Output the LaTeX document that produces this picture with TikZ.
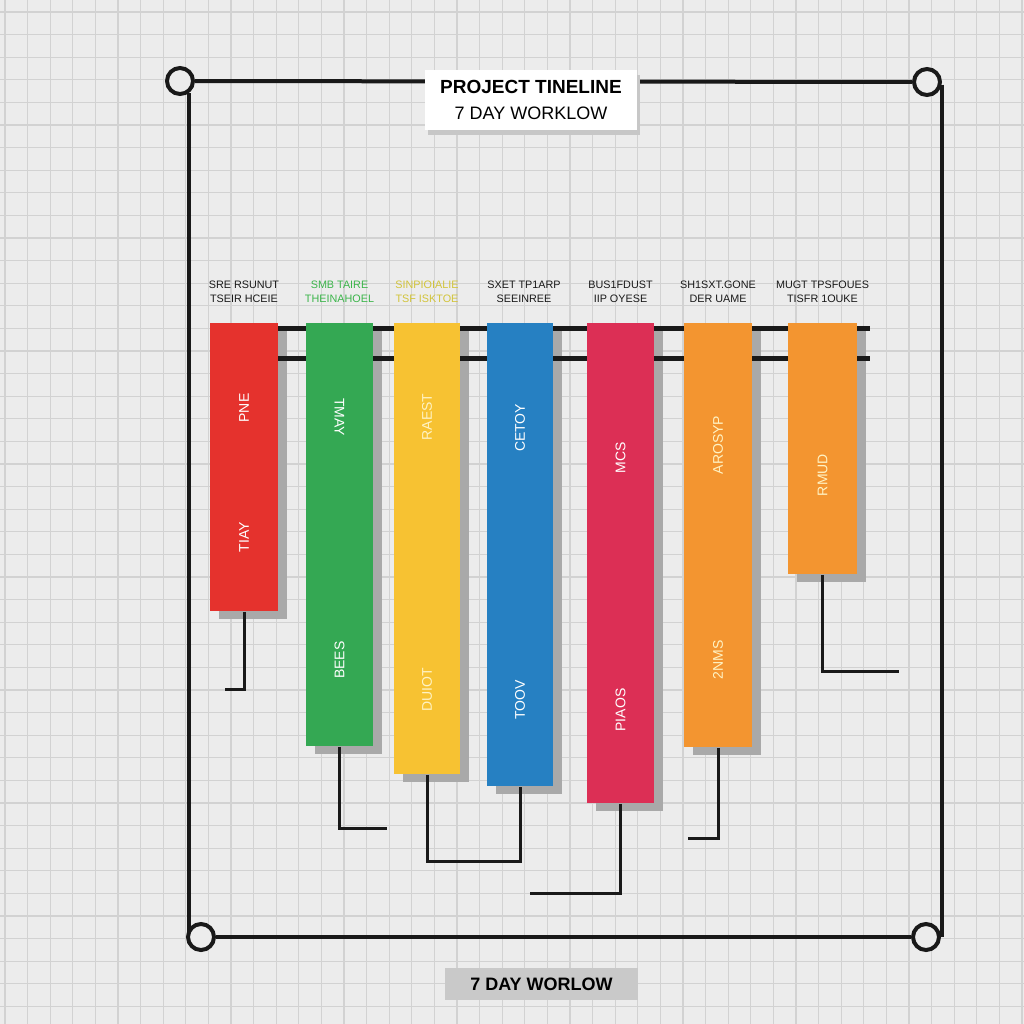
\documentclass[tikz,border=0pt]{standalone}
\usepackage{fontspec}
\setmainfont{Liberation Sans}
\usetikzlibrary{positioning,shadows}

\definecolor{bgc}{HTML}{ECECEC}
\definecolor{gridc}{HTML}{D2D2D2}
\definecolor{cred}{HTML}{E5322D}
\definecolor{cgreen}{HTML}{34A853}
\definecolor{cyellow}{HTML}{F7C232}
\definecolor{cblue}{HTML}{2680C2}
\definecolor{ccrimson}{HTML}{DC2F55}
\definecolor{corange}{HTML}{F39530}
\definecolor{shadc}{HTML}{A9A9A9}
\definecolor{hgreen}{HTML}{3CB54B}
\definecolor{hyellow}{HTML}{D2C43A}
\definecolor{cream}{HTML}{FFF3C4}
\definecolor{footc}{HTML}{C9C9C9}

\begin{document}
\begin{tikzpicture}[x=0.5pt, y=-0.5pt]
    \tikzstyle{gridline} = [draw=gridc, line width=0.6pt]
    \tikzstyle{ring} = [shape=circle, draw=black!90, line width=2pt, fill=bgc, minimum size=13pt, inner sep=0pt]
    \tikzstyle{rim} = [draw=black!90, line width=2pt]
    \tikzstyle{bar} = [shape=rectangle, anchor=north, inner sep=0pt, drop shadow={shadow xshift=4.5pt, shadow yshift=-4pt, fill=shadc, opacity=1}]
    \tikzstyle{rail} = [draw=black!90, line width=2.5pt]
    \tikzstyle{link} = [draw=black!90, line width=1.5pt]
    \tikzstyle{hdr} = [align=center, inner sep=0pt, text=black!90, font=\fontsize{5.4}{7}\selectfont]
    \tikzstyle{lbl} = [rotate=90, inner sep=0pt, text=white, font=\fontsize{7}{8}\selectfont]

    % 背景网格
    \fill[bgc] (0,0) rectangle (1024,1024);
    \useasboundingbox (0,0) rectangle (1024,1024);
    \foreach \g in {0,...,45} {
        \draw[gridline] (\g*22.6+5,0) -- (\g*22.6+5,1024);
        \draw[gridline] (0,\g*22.6+12) -- (1024,\g*22.6+12);
    }

    % 外框
    \path   (180, 81) node [ring, name=tl] {}
            (927, 82) node [ring, name=tr] {}
            (201, 937) node [ring, name=bl] {}
            (926, 937) node [ring, name=br] {};
    \draw[rim] (tl) -- (tr);
    \draw[rim] (bl) -- (br);
    \draw[rim] (tl.-55) -- (tl.-55 |- bl.158);
    \draw[rim] (tr.-10) -- (tr.-10 |- br.east);

    \node [fill=white, inner sep=0pt, minimum width=106pt, minimum height=30pt, align=center,
           font=\fontsize{9}{13}\selectfont,
           drop shadow={shadow xshift=1.5pt, shadow yshift=-2.5pt, fill=black!22, opacity=1}]
          (title) at (531, 100) {{\fontsize{9.5}{13}\selectfont\bfseries PROJECT TINELINE}\\7 DAY WORKLOW};

    % 七根柱子
    \path   (244, 323) node [bar, fill=cred, minimum width=34pt, minimum height=144pt, name=red] {}
            (339.5, 323) node [bar, fill=cgreen, minimum width=33.5pt, minimum height=211.5pt, name=green] {}
            (427, 323) node [bar, fill=cyellow, minimum width=33pt, minimum height=225.5pt, name=yellow] {}
            (520, 323) node [bar, fill=cblue, minimum width=33pt, minimum height=231.5pt, name=blue] {}
            (620.5, 323) node [bar, fill=ccrimson, minimum width=33.5pt, minimum height=240pt, name=crimson] {}
            (718, 323) node [bar, fill=corange, minimum width=34pt, minimum height=212pt, name=orangea] {}
            (822.5, 323) node [bar, fill=corange, minimum width=34.5pt, minimum height=125.5pt, name=orangeb] {};

    \foreach \a/\b in {red/green, green/yellow, yellow/blue, blue/crimson, crimson/orangea, orangea/orangeb} {
        \draw[rail] ([yshift=-2.5pt]\a.north east) -- ([yshift=-2.5pt]\b.north west);
        \draw[rail] ([yshift=-17.5pt]\a.north east) -- ([yshift=-17.5pt]\b.north west);
    }
    \coordinate (raila) at (870, 328);
    \coordinate (railb) at (870, 358);
    \draw[rail] ([yshift=-2.5pt]orangeb.north east) -- (raila);
    \draw[rail] ([yshift=-17.5pt]orangeb.north east) -- (railb);

    % 表头
    \node [hdr, above=10pt of red] (hred) {SRE RSUNUT\\TSEIR HCEIE};
    \node [hdr, text=hgreen, above=10pt of green] (hgreen) {SMB TAIRE\\THEINAHOEL};
    \node [hdr, text=hyellow, above=10pt of yellow] (hyellow) {SINPIOIALIE\\TSF ISKTOE};
    \node [hdr, above=10pt of blue, xshift=2pt] (hblue) {SXET TP1ARP\\SEEINREE};
    \node [hdr, above=10pt of crimson] (hcrimson) {BUS1FDUST\\IIP OYESE};
    \node [hdr, above=10pt of orangea] (horangea) {SH1SXT.GONE\\DER UAME};
    \node [hdr, above=10pt of orangeb] (horangeb) {MUGT TPSFOUES\\TISFR 1OUKE};

    % 柱内文字
    \node [lbl] (reda) at (red |- 0,408) {PNE};
    \node [lbl] (redb) at (red |- 0,537) {TIAY};
    \node [lbl, rotate=180] (greena) at (green |- 0,417) {TMAY};
    \node [lbl] (greenb) at (green |- 0,660) {BEES};
    \node [lbl, text=cream] (yellowa) at (yellow |- 0,417) {RAEST};
    \node [lbl, text=cream] (yellowb) at (yellow |- 0,690) {DUIOT};
    \node [lbl] (bluea) at (blue |- 0,428) {CETOY};
    \node [lbl] (blueb) at (blue |- 0,700) {TOOV};
    \node [lbl] (crimsona) at (crimson |- 0,458) {MCS};
    \node [lbl] (crimsonb) at (crimson |- 0,710) {PIAOS};
    \node [lbl, text=cream] (orangeaa) at (orangea |- 0,445) {AROSYP};
    \node [lbl, text=cream] (orangeab) at (orangea |- 0,660) {2NMS};
    \node [lbl, text=cream] (orangeba) at (orangeb |- 0,475) {RMUD};

    % 连线
    \coordinate (redend) at (225, 689);
    \coordinate (greenend) at (387, 828);
    \coordinate (crimsonend) at (530, 893);
    \coordinate (orangeaend) at (688, 838);
    \coordinate (orangebend) at (899, 671);
    \draw[link] (red.south) |- (redend);
    \draw[link] (green.south) |- (greenend);
    \draw[link] (yellow.south) -- ++(0, 87) -| (blue.south);
    \draw[link] (crimson.south) |- (crimsonend);
    \draw[link] (orangea.south) |- (orangeaend);
    \draw[link] (orangeb.south) |- (orangebend);

    \node [fill=footc, inner sep=0pt, minimum width=96.5pt, minimum height=16pt,
           font=\fontsize{9}{11}\selectfont\bfseries] (foot) at (541.5, 984) {7 DAY WORLOW};
\end{tikzpicture}
\end{document}
